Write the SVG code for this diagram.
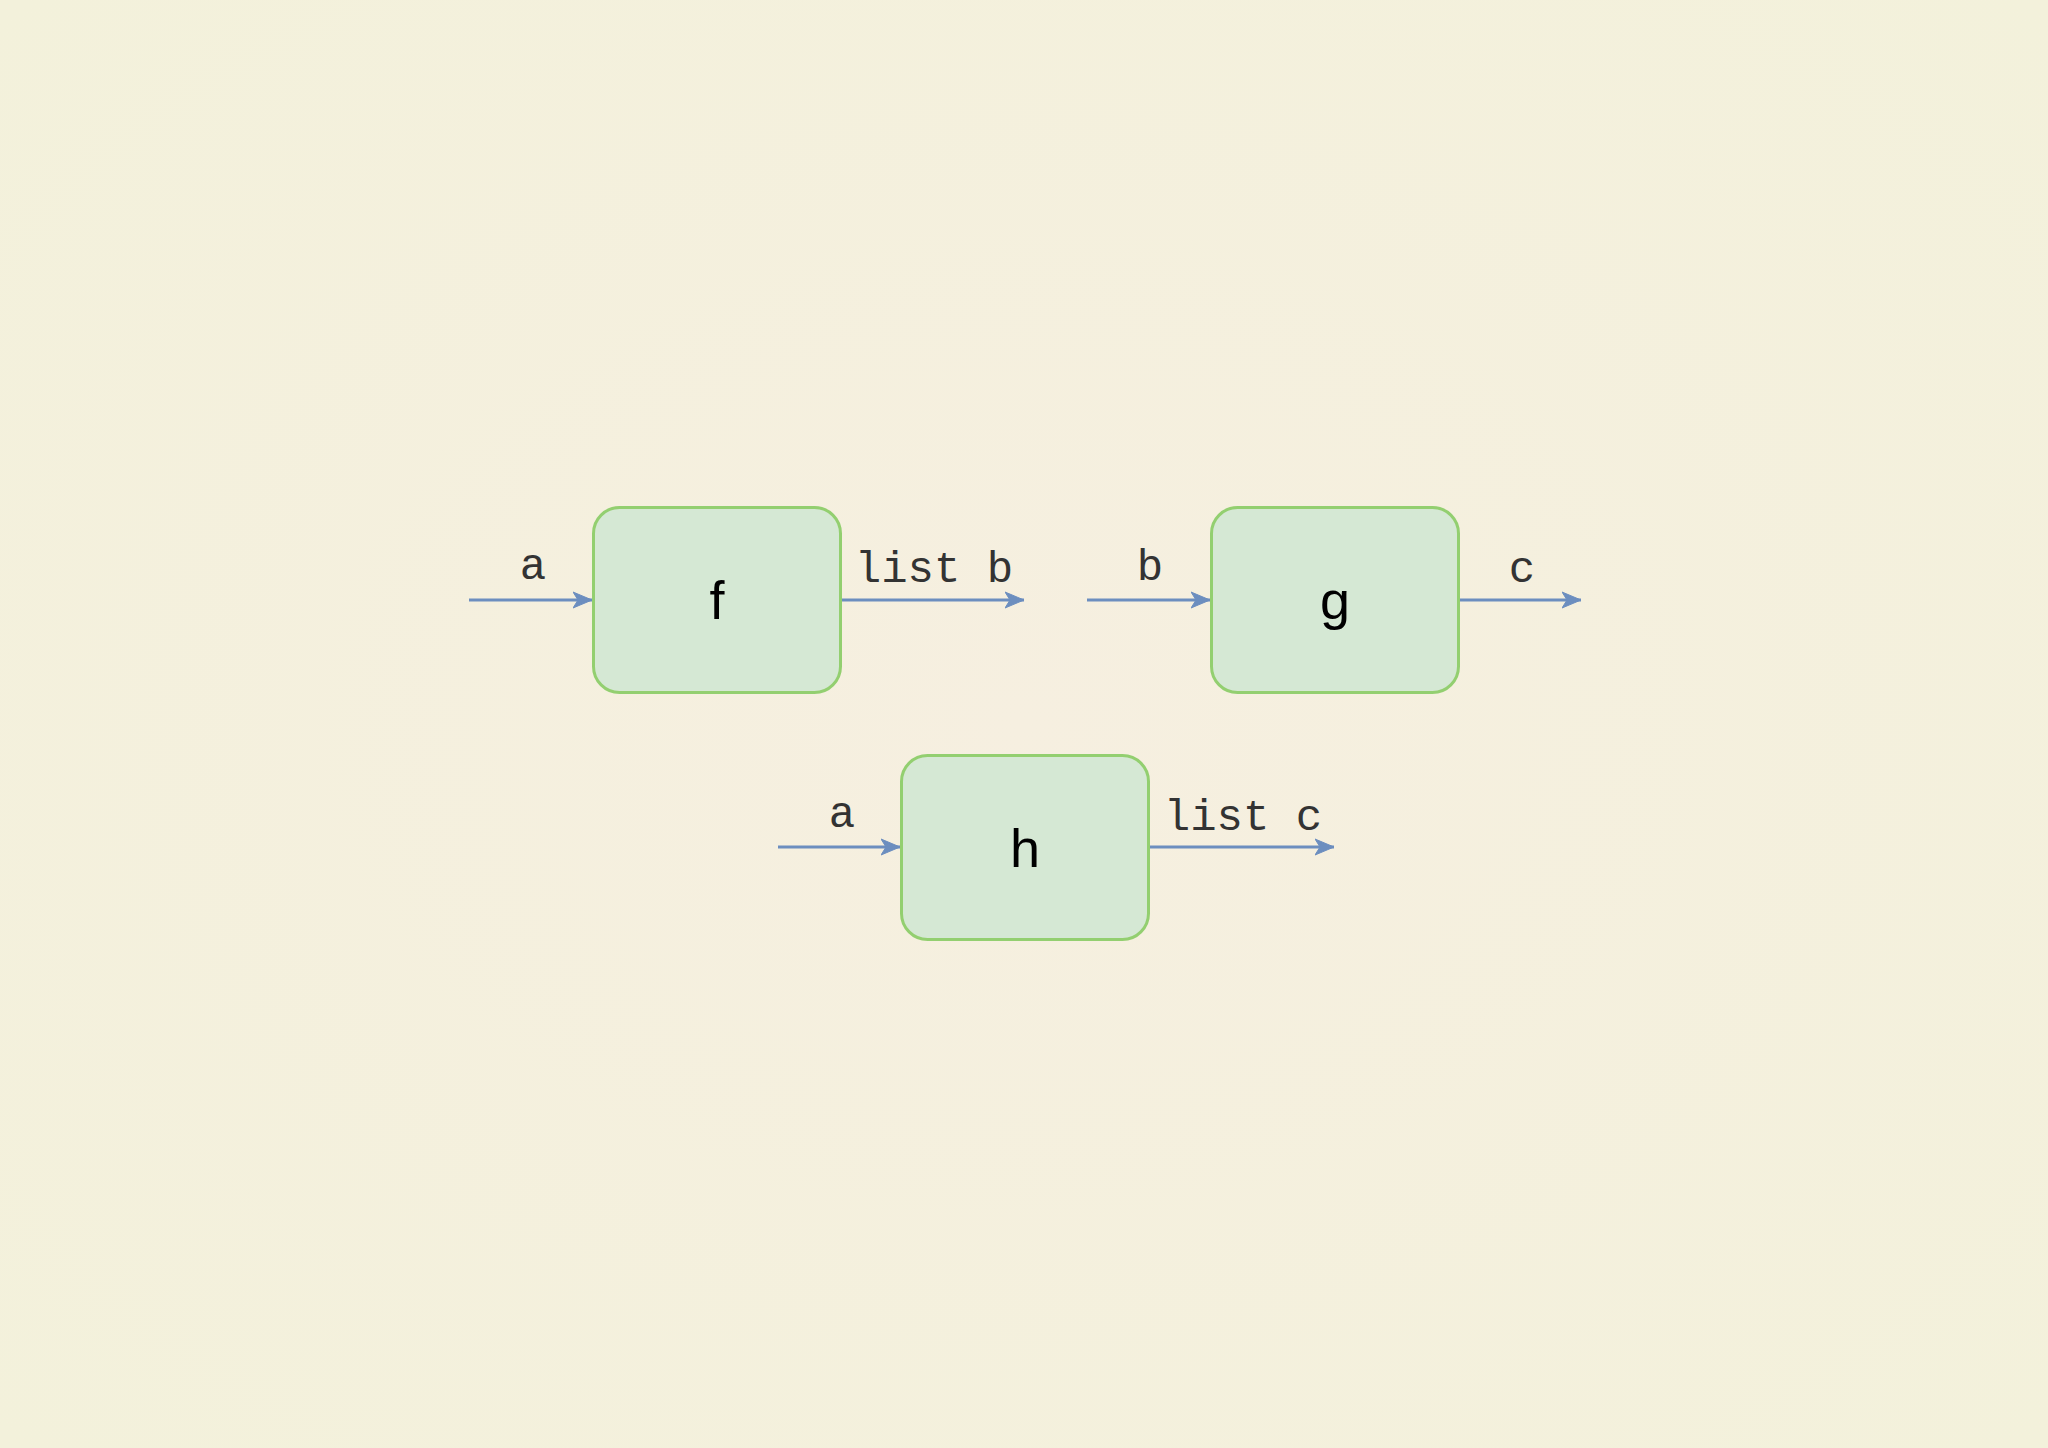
<svg xmlns="http://www.w3.org/2000/svg" width="2048" height="1448" viewBox="0 0 2048 1448">
  <defs>
    <radialGradient id="bg" cx="0.5" cy="0.5" r="0.7">
      <stop offset="0" stop-color="#F6EFE0"/>
      <stop offset="1" stop-color="#F3F1DB"/>
    </radialGradient>
    <marker id="arrow" markerUnits="userSpaceOnUse" markerWidth="22" markerHeight="20" refX="19" refY="9" orient="auto">
      <path d="M0,1 L19,9 L0,17 L5,9 Z" fill="#6C8EBF" stroke="#6C8EBF" stroke-width="1"/>
    </marker>
    <style>
      .box { fill: #D5E8D4; stroke: #93CF70; stroke-width: 3; }
      .node-label { font-family: "Liberation Sans", Arial, sans-serif; font-size: 54px; fill: #000000; text-anchor: middle; }
      .edge { fill: none; stroke: #6C8EBF; stroke-width: 3; marker-end: url(#arrow); }
      .edge-label { font-family: "Liberation Mono", "Courier New", monospace; font-size: 44px; fill: #333333; text-anchor: middle; }
    </style>
  </defs>
  <rect x="0" y="0" width="2048" height="1448" fill="url(#bg)"/>

  <g id="node-f">
    <rect class="box" x="593.5" y="507.5" width="247" height="185" rx="26" ry="26"/>
    <text class="node-label" x="717" y="619">f</text>
  </g>
  <g id="node-g">
    <rect class="box" x="1211.5" y="507.5" width="247" height="185" rx="26" ry="26"/>
    <text class="node-label" x="1335" y="619">g</text>
  </g>
  <g id="node-h">
    <rect class="box" x="901.5" y="755.5" width="247" height="184" rx="26" ry="26"/>
    <text class="node-label" x="1025" y="867">h</text>
  </g>

  <g id="connectors">
    <line class="edge" x1="469" y1="600" x2="592" y2="600"/>
    <line class="edge" x1="842" y1="600" x2="1024" y2="600"/>
    <line class="edge" x1="1087" y1="600" x2="1210" y2="600"/>
    <line class="edge" x1="1460" y1="600" x2="1581" y2="600"/>
    <line class="edge" x1="778" y1="847" x2="900" y2="847"/>
    <line class="edge" x1="1150" y1="847" x2="1334" y2="847"/>
  </g>

  <g id="edge-labels">
    <text class="edge-label" x="533" y="579">a</text>
    <text class="edge-label" x="934" y="582">list b</text>
    <text class="edge-label" x="1150" y="580">b</text>
    <text class="edge-label" x="1522" y="582">c</text>
    <text class="edge-label" x="842" y="827">a</text>
    <text class="edge-label" x="1243" y="830">list c</text>
  </g>
</svg>
